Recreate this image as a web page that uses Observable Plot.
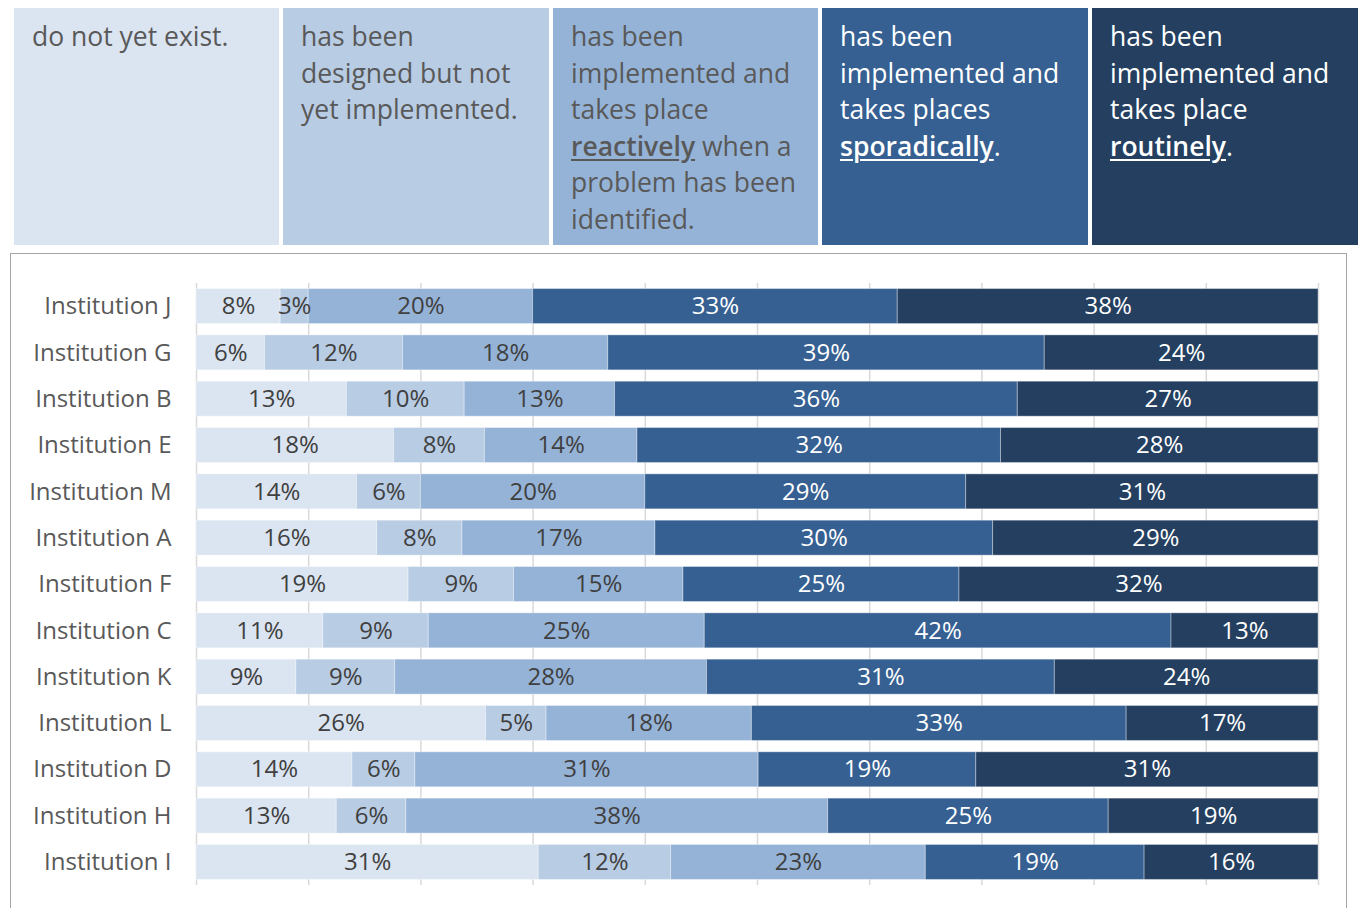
<!DOCTYPE html>
<html>
<head>
<meta charset="utf-8">
<script src="https://cdn.jsdelivr.net/npm/d3@7"></script>
<script src="https://cdn.jsdelivr.net/npm/@observablehq/plot@0.6"></script>
<style>
  html, body { margin: 0; padding: 0; background: #fff; width: 1361px; height: 908px; overflow: hidden; }
  .lbox { position: absolute; top: 8px; height: 237px; box-sizing: border-box; padding: 10px 0 0 18px;
          font-family: 'Open Sans', sans-serif; font-size: 26.5px; line-height: 36.5px; white-space: nowrap; }
  .lbox u { font-weight: 600; text-decoration: underline; text-decoration-thickness: 2px; text-underline-offset: 3px; }
  #frame { position: absolute; left: 10px; top: 253px; width: 1337px; height: 700px; border: 1px solid #a6a6a6; box-sizing: border-box; }
  #chart { position: absolute; left: 0; top: 254px; }
</style>
</head>
<body>
<div id="legend"></div>
<div id="frame"></div>
<div id="chart"></div>
<script>
const institutions = ["Institution J","Institution G","Institution B","Institution E","Institution M","Institution A","Institution F","Institution C","Institution K","Institution L","Institution D","Institution H","Institution I"];
const levels = ["do not yet exist", "designed", "reactively", "sporadically", "routinely"];
const colors = ["#dbe5f1", "#b8cce4", "#95b3d7", "#366092", "#243f60"];

// segment widths (percent)
const notExist  = [7.5, 6.1, 13.4, 17.6, 14.3, 16.1, 18.9, 11.3, 8.9, 25.8, 13.9, 12.5, 30.5];
const designed  = [2.5, 12.3, 10.5, 8.1, 5.7, 7.6, 9.4, 9.4, 8.8, 5.4, 5.6, 6.2, 11.8];
const reactive  = [20.0, 18.3, 13.4, 13.6, 20.0, 17.2, 15.1, 24.6, 27.8, 18.3, 30.6, 37.6, 22.7];
const sporadic  = [32.5, 38.9, 35.9, 32.4, 28.6, 30.1, 24.6, 41.6, 31.0, 33.4, 19.4, 25.0, 19.5];
const routine   = [37.5, 24.4, 26.8, 28.3, 31.4, 29.0, 32.0, 13.1, 23.5, 17.1, 30.5, 18.7, 15.5];

// printed labels
const labNotExist = [8, 6, 13, 18, 14, 16, 19, 11, 9, 26, 14, 13, 31];
const labDesigned = [3, 12, 10, 8, 6, 8, 9, 9, 9, 5, 6, 6, 12];
const labReactive = [20, 18, 13, 14, 20, 17, 15, 25, 28, 18, 31, 38, 23];
const labSporadic = [33, 39, 36, 32, 29, 30, 25, 42, 31, 33, 19, 25, 19];
const labRoutine  = [38, 24, 27, 28, 31, 29, 32, 13, 24, 17, 31, 19, 16];

const gridTicks = [0, 10, 20, 30, 40, 50, 60, 70, 80, 90, 100];

const legendLines = [
  ["do not yet exist."],
  ["has been", "designed but not", "yet implemented."],
  ["has been", "implemented and", "takes place", "*reactively* when a", "problem has been", "identified."],
  ["has been", "implemented and", "takes places", "*sporadically*."],
  ["has been", "implemented and", "takes place", "*routinely*."]
];
const legendLeft = [14, 283, 553, 822, 1092];
const legendWidth = [265, 266, 265, 266, 266];

// legend boxes
const legend = document.getElementById("legend");
legendLines.forEach((lines, i) => {
  const d = document.createElement("div");
  d.className = "lbox";
  d.style.left = legendLeft[i] + "px";
  d.style.width = legendWidth[i] + "px";
  d.style.background = colors[i];
  d.style.color = i >= 3 ? "#ffffff" : "#595959";
  d.innerHTML = lines.map(l => l.replace(/\*(.+?)\*/g, "<u>$1</u>")).join("<br>");
  legend.appendChild(d);
});

const valueSeries = [notExist, designed, reactive, sporadic, routine];
const labelSeries = [labNotExist, labDesigned, labReactive, labSporadic, labRoutine];
const rows = institutions.flatMap((inst, i) => levels.map((lv, j) => ({
  inst, level: lv, li: j, value: valueSeries[j][i], label: labelSeries[j][i]
})));

const chart = Plot.plot({
  width: 1361,
  height: 654,
  marginLeft: 196,
  marginRight: 43,
  marginTop: 29,
  marginBottom: 23,
  style: { fontFamily: "'Open Sans', sans-serif", fontSize: "22px", background: "transparent", color: "#595959" },
  x: { domain: [0, 100], axis: null },
  y: { domain: institutions, paddingInner: 0.245, paddingOuter: 0.12, round: false, label: null, axis: null },
  color: { domain: levels, range: colors },
  marks: [
    Plot.ruleX(gridTicks, { stroke: "#d9d9d9", strokeWidth: 1.5 }),
    Plot.barX(rows, Plot.stackX({
      x: "value", y: "inst", z: "level", order: levels, fill: "level",
      stroke: "#ffffff", strokeOpacity: 0.35, strokeWidth: 1
    })),
    Plot.text(rows, Plot.stackX({
      x: "value", y: "inst", z: "level", order: levels,
      text: d => d.label + "%",
      fill: d => d.li >= 3 ? "#ffffff" : "#404040",
      fontSize: 24
    })),
    Plot.axisY({ tickSize: 0, tickPadding: 25, fontSize: 24, fill: "#595959", label: null })
  ]
});
document.getElementById("chart").appendChild(chart);
</script>
</body>
</html>
